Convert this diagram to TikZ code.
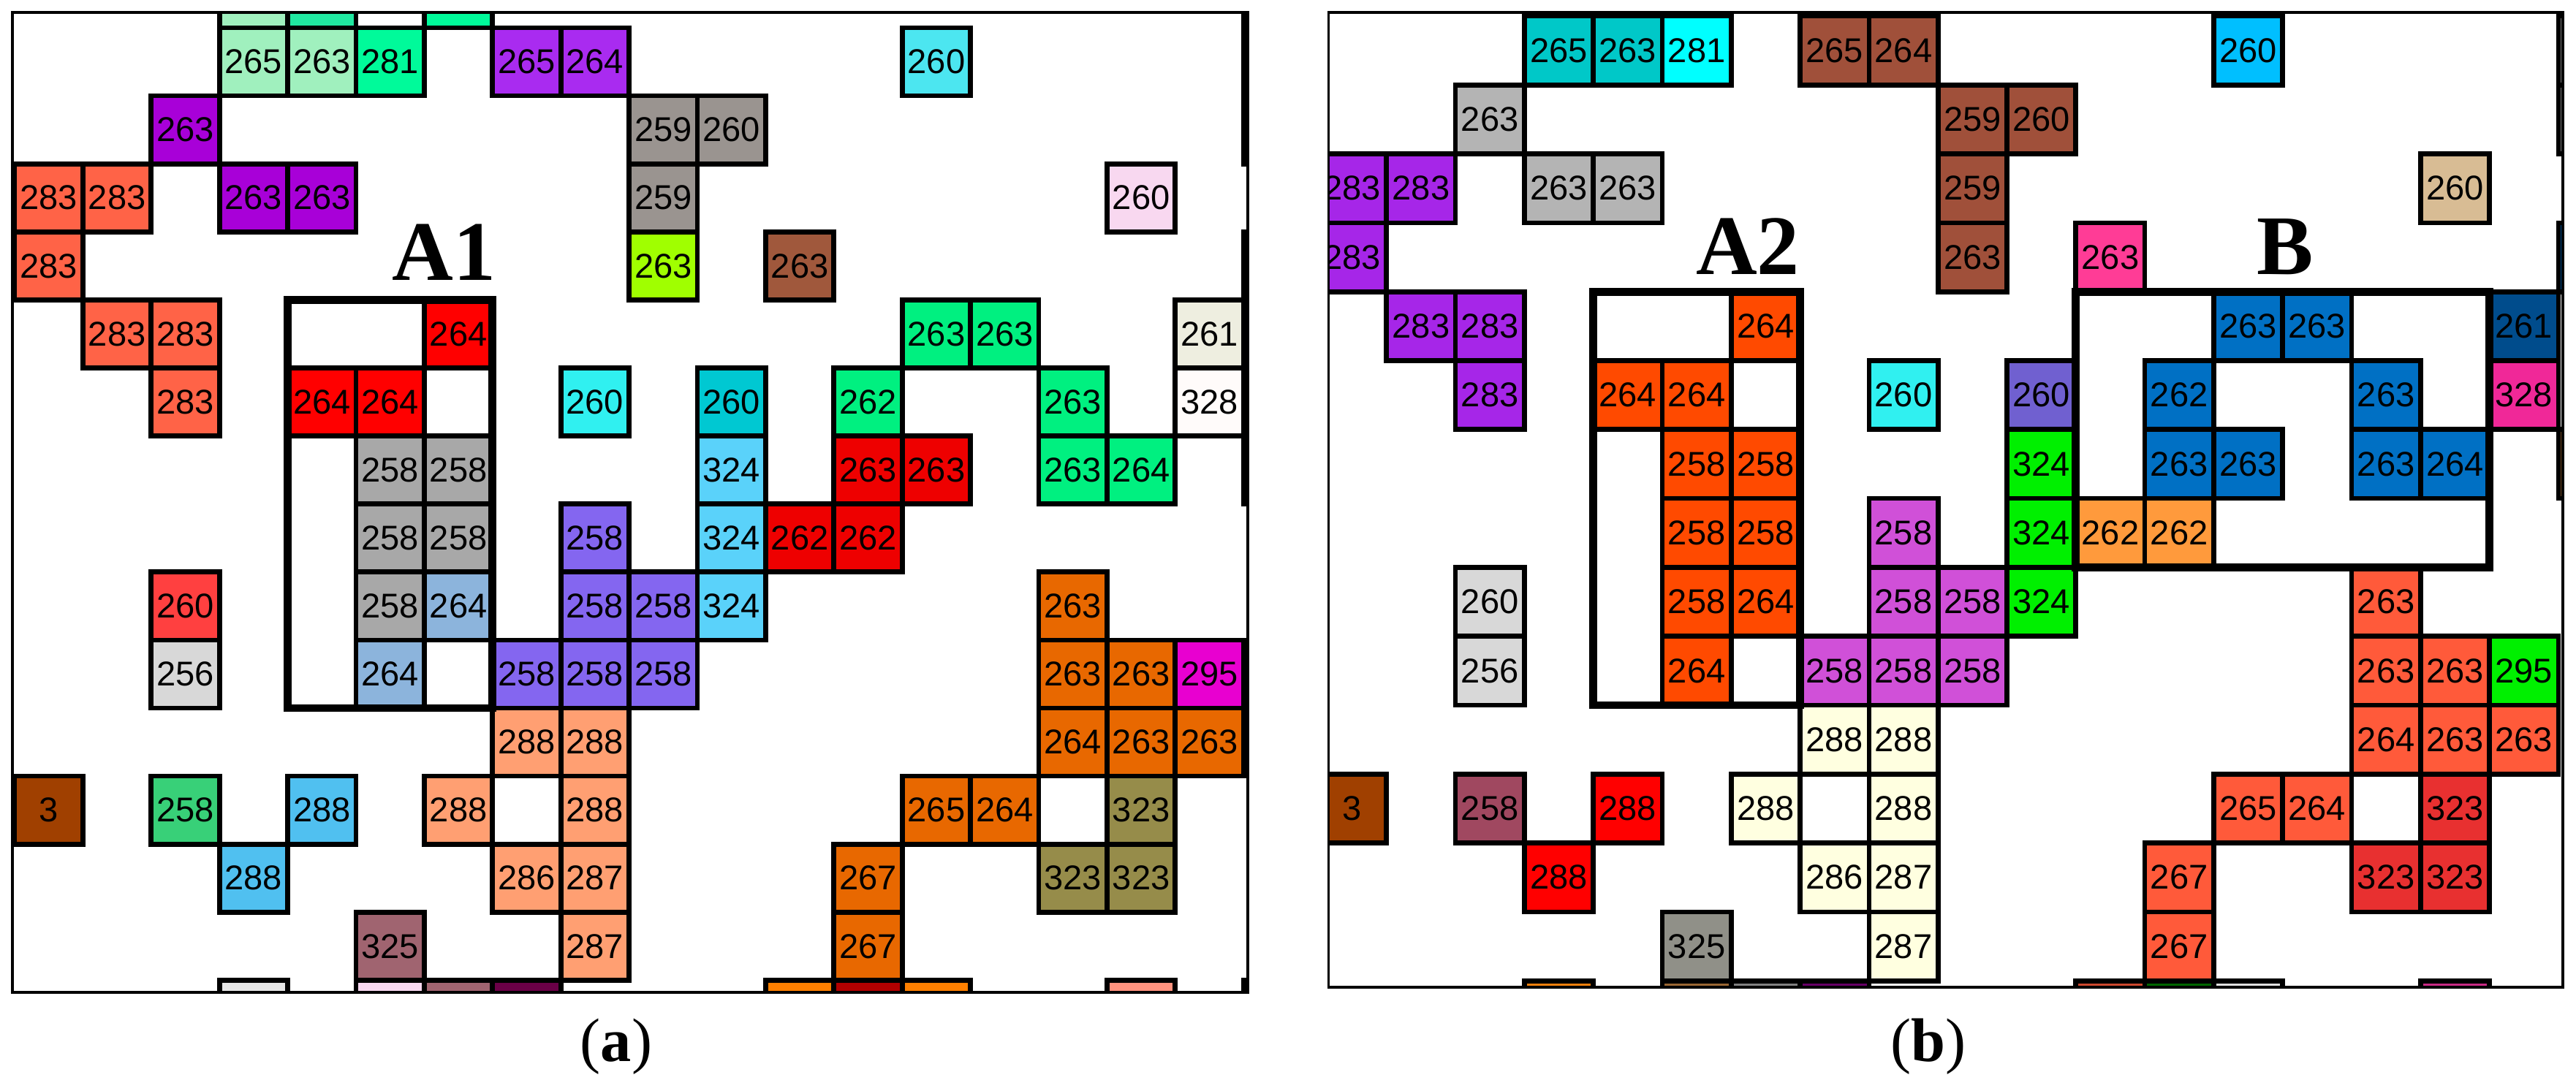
\documentclass[tikz,border=0pt]{standalone}
\usepackage{fontspec}
\newfontfamily\cellfont{Liberation Sans}
\newfontfamily\serfont{Liberation Serif}
\usetikzlibrary{calc}
% left panel colours
\definecolor{Lmint}{HTML}{A0F0BE}
\definecolor{Lsea}{HTML}{20E8A0}
\definecolor{Lspring}{HTML}{00FA9A}
\definecolor{Lpurp}{HTML}{A92BF0}
\definecolor{Lviolet}{HTML}{A800D8}
\definecolor{Lgraytwo}{HTML}{9A9490}
\definecolor{Ltom}{HTML}{FF6347}
\definecolor{Lyg}{HTML}{A0FF00}
\definecolor{Lsienna}{HTML}{A0583C}
\definecolor{Lcyanone}{HTML}{4CE6F0}
\definecolor{Lpink}{HTML}{F8D8F0}
\definecolor{Lred}{HTML}{FF0000}
\definecolor{Lbeige}{HTML}{EEEEE0}
\definecolor{Lwhite}{HTML}{FFFBFA}
\definecolor{Lcyantwo}{HTML}{30F0F0}
\definecolor{Lteal}{HTML}{00C8D2}
\definecolor{Lgreen}{HTML}{00F080}
\definecolor{Lgray}{HTML}{A8A8A8}
\definecolor{Lsky}{HTML}{5AD2FA}
\definecolor{Lredtwo}{HTML}{EE0000}
\definecolor{Lslate}{HTML}{8466F0}
\definecolor{Lsteel}{HTML}{8CB4DC}
\definecolor{Lredthree}{HTML}{FF4040}
\definecolor{Llgray}{HTML}{D8D8D8}
\definecolor{Lorange}{HTML}{E86800}
\definecolor{Lmag}{HTML}{E800D0}
\definecolor{Lsalmon}{HTML}{FF9F72}
\definecolor{Lbrown}{HTML}{A04000}
\definecolor{Lgreentwo}{HTML}{38D078}
\definecolor{Lblue}{HTML}{50C0F0}
\definecolor{Lolive}{HTML}{968C4A}
\definecolor{Lmauve}{HTML}{A06470}
% right panel colours
\definecolor{Rturq}{HTML}{00C8C8}
\definecolor{Rcyan}{HTML}{00FFFF}
\definecolor{Rsienna}{HTML}{A0503A}
\definecolor{Rsky}{HTML}{00BFFF}
\definecolor{Rgray}{HTML}{B4B4B4}
\definecolor{Rpurp}{HTML}{A626E8}
\definecolor{Rtan}{HTML}{D8BC94}
\definecolor{Rpink}{HTML}{FF3C96}
\definecolor{Rorred}{HTML}{FF4A00}
\definecolor{Rblue}{HTML}{0070C4}
\definecolor{Rnavy}{HTML}{004C8C}
\definecolor{Rpinktwo}{HTML}{F02898}
\definecolor{Rcyantwo}{HTML}{30F0F0}
\definecolor{Rslate}{HTML}{7060D0}
\definecolor{Rlime}{HTML}{00F000}
\definecolor{Rorchid}{HTML}{D050D8}
\definecolor{Rorange}{HTML}{FF9A3C}
\definecolor{Rlgray}{HTML}{D8D8D8}
\definecolor{Rtomato}{HTML}{FF5A3A}
\definecolor{Rivory}{HTML}{FFFFE0}
\definecolor{Rbrown}{HTML}{A04000}
\definecolor{Rrasp}{HTML}{A04860}
\definecolor{Rred}{HTML}{FF0000}
\definecolor{Rredtwo}{HTML}{E83030}
\definecolor{Rgraytwo}{HTML}{909088}
\tikzset{
  cellbox/.style={draw=black, line width=1.9pt, inner sep=0pt, text=black,
    font=\cellfont\fontsize{13.4}{16}\selectfont},
  leftcell/.style={cellbox, minimum width=0.934cm, minimum height=0.931cm},
  rightcell/.style={cellbox, minimum width=0.943cm, minimum height=0.943cm},
  panelframe/.style={draw=black, line width=1.1pt},
  regionbox/.style={draw=black, line width=3.1pt, inner sep=0pt, outer sep=0pt},
  regionlabel/.style={font=\serfont\bfseries\fontsize{33}{36}\selectfont, inner sep=0pt},
  captionlabel/.style={font=\serfont\fontsize{24}{28}\selectfont, inner sep=0pt, anchor=base}
}
\newcommand\La[4]{\node[leftcell, fill=#3] (a#1x#2) at ({0.667+0.934*#1},{-0.8455-0.931*#2}) {#4};}
\newcommand\Rb[4]{\node[rightcell, fill=#3] (b#1x#2) at ({18.4965+0.943*#1},{-0.6915-0.943*#2}) {#4};}
\begin{document}
\begin{tikzpicture}
\useasboundingbox[fill=white] (0,0) rectangle (35.24,-14.92);
% ---------------- panel (a) ----------------
\begin{scope}
\clip (0.17,-0.17) rectangle (17.07,-13.58);
\La{3}{-1}{Lmint}{} \La{4}{-1}{Lsea}{} \La{6}{-1}{Lspring}{}
\La{3}{0}{Lmint}{265} \La{4}{0}{Lmint}{263} \La{5}{0}{Lspring}{281}
\La{7}{0}{Lpurp}{265} \La{8}{0}{Lpurp}{264} \La{13}{0}{Lcyanone}{260}
\La{2}{1}{Lviolet}{263} \La{9}{1}{Lgraytwo}{259} \La{10}{1}{Lgraytwo}{260}
\La{0}{2}{Ltom}{283} \La{1}{2}{Ltom}{283} \La{3}{2}{Lviolet}{263} \La{4}{2}{Lviolet}{263}
\La{9}{2}{Lgraytwo}{259} \La{16}{2}{Lpink}{260}
\La{0}{3}{Ltom}{283} \La{9}{3}{Lyg}{263} \La{11}{3}{Lsienna}{263}
\La{1}{4}{Ltom}{283} \La{2}{4}{Ltom}{283} \La{6}{4}{Lred}{264}
\La{13}{4}{Lgreen}{263} \La{14}{4}{Lgreen}{263} \La{17}{4}{Lbeige}{261}
\La{2}{5}{Ltom}{283} \La{4}{5}{Lred}{264} \La{5}{5}{Lred}{264} \La{8}{5}{Lcyantwo}{260}
\La{10}{5}{Lteal}{260} \La{12}{5}{Lgreen}{262} \La{15}{5}{Lgreen}{263} \La{17}{5}{Lwhite}{328}
\La{5}{6}{Lgray}{258} \La{6}{6}{Lgray}{258} \La{10}{6}{Lsky}{324} \La{12}{6}{Lredtwo}{263}
\La{13}{6}{Lredtwo}{263} \La{15}{6}{Lgreen}{263} \La{16}{6}{Lgreen}{264}
\La{5}{7}{Lgray}{258} \La{6}{7}{Lgray}{258} \La{8}{7}{Lslate}{258} \La{10}{7}{Lsky}{324}
\La{11}{7}{Lredtwo}{262} \La{12}{7}{Lredtwo}{262}
\La{2}{8}{Lredthree}{260} \La{5}{8}{Lgray}{258} \La{6}{8}{Lsteel}{264} \La{8}{8}{Lslate}{258}
\La{9}{8}{Lslate}{258} \La{10}{8}{Lsky}{324} \La{15}{8}{Lorange}{263}
\La{2}{9}{Llgray}{256} \La{5}{9}{Lsteel}{264} \La{7}{9}{Lslate}{258} \La{8}{9}{Lslate}{258}
\La{9}{9}{Lslate}{258} \La{15}{9}{Lorange}{263} \La{16}{9}{Lorange}{263} \La{17}{9}{Lmag}{295}
\La{7}{10}{Lsalmon}{288} \La{8}{10}{Lsalmon}{288} \La{15}{10}{Lorange}{264}
\La{16}{10}{Lorange}{263} \La{17}{10}{Lorange}{263}
\La{0}{11}{Lbrown}{3} \La{2}{11}{Lgreentwo}{258} \La{4}{11}{Lblue}{288} \La{6}{11}{Lsalmon}{288}
\La{8}{11}{Lsalmon}{288} \La{13}{11}{Lorange}{265} \La{14}{11}{Lorange}{264} \La{16}{11}{Lolive}{323}
\La{3}{12}{Lblue}{288} \La{7}{12}{Lsalmon}{286} \La{8}{12}{Lsalmon}{287} \La{12}{12}{Lorange}{267}
\La{15}{12}{Lolive}{323} \La{16}{12}{Lolive}{323}
\La{5}{13}{Lmauve}{325} \La{8}{13}{Lsalmon}{287} \La{12}{13}{Lorange}{267}
\La{3}{14}{black!10}{} \La{5}{14}{Lpink}{} \La{6}{14}{Lmauve}{} \La{7}{14}{red!60!blue!70!black}{}
\La{11}{14}{orange}{} \La{12}{14}{red!70!black}{} \La{13}{14}{orange}{} \La{16}{14}{Ltom!70}{}
\La{18}{-1}{black!85}{} \La{18}{0}{black!85}{} \La{18}{1}{black!85}{}
\La{18}{3}{black!85}{} \La{18}{4}{black!85}{} \La{18}{5}{black!85}{} \La{18}{6}{black!85}{}
\La{18}{14}{black!85}{}
\end{scope}
\draw[panelframe] (0.17,-0.17) rectangle (17.07,-13.58);
\node[regionbox, minimum width=2.802cm, minimum height=5.586cm, anchor=north west] (A1) at (3.936,-4.104) {};
\node[regionlabel, anchor=base east] (A1lab) at ($(A1.north east)+(0.05,0.27)$) {A1};
% ---------------- panel (b) ----------------
\begin{scope}
\clip (18.175,-0.17) rectangle (35.06,-13.51);
\Rb{3}{0}{Rturq}{265} \Rb{4}{0}{Rturq}{263} \Rb{5}{0}{Rcyan}{281}
\Rb{7}{0}{Rsienna}{265} \Rb{8}{0}{Rsienna}{264} \Rb{13}{0}{Rsky}{260}
\Rb{2}{1}{Rgray}{263} \Rb{9}{1}{Rsienna}{259} \Rb{10}{1}{Rsienna}{260}
\Rb{0}{2}{Rpurp}{283} \Rb{1}{2}{Rpurp}{283} \Rb{3}{2}{Rgray}{263} \Rb{4}{2}{Rgray}{263}
\Rb{9}{2}{Rsienna}{259} \Rb{16}{2}{Rtan}{260}
\Rb{0}{3}{Rpurp}{283} \Rb{9}{3}{Rsienna}{263} \Rb{11}{3}{Rpink}{263}
\Rb{1}{4}{Rpurp}{283} \Rb{2}{4}{Rpurp}{283} \Rb{6}{4}{Rorred}{264}
\Rb{13}{4}{Rblue}{263} \Rb{14}{4}{Rblue}{263} \Rb{17}{4}{Rnavy}{261}
\Rb{2}{5}{Rpurp}{283} \Rb{4}{5}{Rorred}{264} \Rb{5}{5}{Rorred}{264} \Rb{8}{5}{Rcyantwo}{260}
\Rb{10}{5}{Rslate}{260} \Rb{12}{5}{Rblue}{262} \Rb{15}{5}{Rblue}{263} \Rb{17}{5}{Rpinktwo}{328}
\Rb{5}{6}{Rorred}{258} \Rb{6}{6}{Rorred}{258} \Rb{10}{6}{Rlime}{324} \Rb{12}{6}{Rblue}{263}
\Rb{13}{6}{Rblue}{263} \Rb{15}{6}{Rblue}{263} \Rb{16}{6}{Rblue}{264}
\Rb{5}{7}{Rorred}{258} \Rb{6}{7}{Rorred}{258} \Rb{8}{7}{Rorchid}{258} \Rb{10}{7}{Rlime}{324}
\Rb{11}{7}{Rorange}{262} \Rb{12}{7}{Rorange}{262}
\Rb{2}{8}{Rlgray}{260} \Rb{5}{8}{Rorred}{258} \Rb{6}{8}{Rorred}{264} \Rb{8}{8}{Rorchid}{258}
\Rb{9}{8}{Rorchid}{258} \Rb{10}{8}{Rlime}{324} \Rb{15}{8}{Rtomato}{263}
\Rb{2}{9}{Rlgray}{256} \Rb{5}{9}{Rorred}{264} \Rb{7}{9}{Rorchid}{258} \Rb{8}{9}{Rorchid}{258}
\Rb{9}{9}{Rorchid}{258} \Rb{15}{9}{Rtomato}{263} \Rb{16}{9}{Rtomato}{263} \Rb{17}{9}{Rlime}{295}
\Rb{7}{10}{Rivory}{288} \Rb{8}{10}{Rivory}{288} \Rb{15}{10}{Rtomato}{264}
\Rb{16}{10}{Rtomato}{263} \Rb{17}{10}{Rtomato}{263}
\Rb{0}{11}{Rbrown}{3} \Rb{2}{11}{Rrasp}{258} \Rb{4}{11}{Rred}{288} \Rb{6}{11}{Rivory}{288}
\Rb{8}{11}{Rivory}{288} \Rb{13}{11}{Rtomato}{265} \Rb{14}{11}{Rtomato}{264} \Rb{16}{11}{Rredtwo}{323}
\Rb{3}{12}{Rred}{288} \Rb{7}{12}{Rivory}{286} \Rb{8}{12}{Rivory}{287} \Rb{12}{12}{Rtomato}{267}
\Rb{15}{12}{Rredtwo}{323} \Rb{16}{12}{Rredtwo}{323}
\Rb{5}{13}{Rgraytwo}{325} \Rb{8}{13}{Rivory}{287} \Rb{12}{13}{Rtomato}{267}
\Rb{3}{14}{orange!80!brown}{} \Rb{5}{14}{brown!80!black}{} \Rb{6}{14}{gray}{} \Rb{7}{14}{violet!80!black}{}
\Rb{11}{14}{Rtomato!80!black}{} \Rb{12}{14}{green!40!black}{} \Rb{13}{14}{black!12}{} \Rb{16}{14}{magenta!80!black}{}
\Rb{18}{0}{gray}{} \Rb{18}{1}{gray}{} \Rb{18}{3}{Rnavy}{} \Rb{18}{6}{brown!60!black}{}
\end{scope}
\draw[panelframe] (18.175,-0.17) rectangle (35.06,-13.51);
\node[regionbox, minimum width=2.829cm, minimum height=5.658cm, anchor=north west] (A2) at (21.797,-3.992) {};
\node[regionlabel, anchor=base east] (A2lab) at ($(A2.north east)+(0.0,0.24)$) {A2};
\node[regionbox, minimum width=5.658cm, minimum height=3.772cm, anchor=north west] (Bbox) at (28.398,-3.992) {};
\node[regionlabel, anchor=base] (Blab) at ($(Bbox.north)+(0.03,0.24)$) {B};
% captions
\node[captionlabel] (capa) at (8.43,-14.52) {(\textbf{a})};
\node[captionlabel] (capb) at (26.38,-14.52) {(\textbf{b})};
\end{tikzpicture}
\end{document}
